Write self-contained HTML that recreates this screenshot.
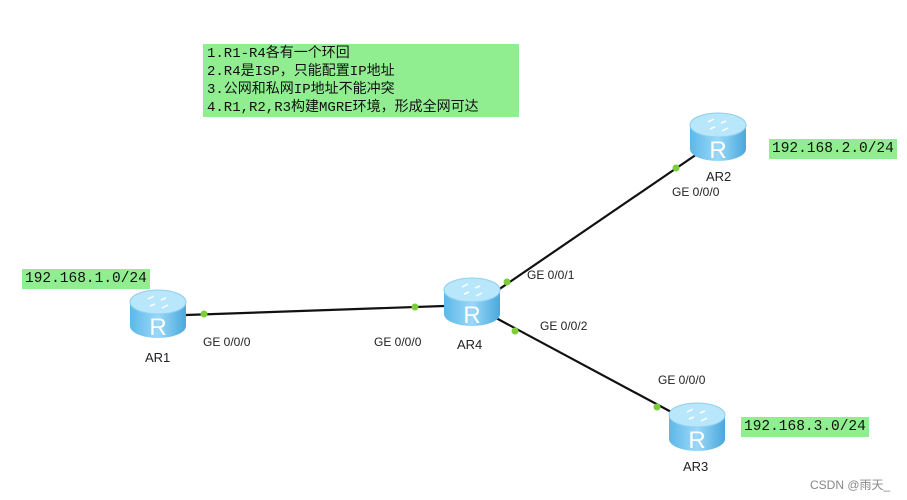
<!DOCTYPE html>
<html><head><meta charset="utf-8"><style>
body{margin:0;background:#fff;width:907px;height:500px;overflow:hidden;position:relative;font-family:"Liberation Sans",sans-serif}
.note{position:absolute;left:203px;top:44px;width:316px;height:73px;background:#90ee90;font-family:"Liberation Mono","Noto Sans CJK SC",monospace;font-size:14px;line-height:18px;color:#111;padding:1px 0 0 4px;box-sizing:border-box;white-space:pre}
.net{position:absolute;background:#90ee90;font-family:"Liberation Mono",monospace;font-size:14.5px;color:#111;height:20px;line-height:20px;padding:0 3px;}
</style></head><body>
<div class="note">1.R1-R4各有一个环回
2.R4是ISP，只能配置IP地址
3.公网和私网IP地址不能冲突
4.R1,R2,R3构建MGRE环境，形成全网可达</div>
<div class="net" style="left:22px;top:269px">192.168.1.0/24</div>
<div class="net" style="left:769px;top:139px">192.168.2.0/24</div>
<div class="net" style="left:741px;top:417px">192.168.3.0/24</div>
<svg width="907" height="500" style="position:absolute;left:0;top:0">
<defs>
<linearGradient id="b" x1="0" x2="1"><stop offset="0" stop-color="#5cb8e8"/><stop offset="0.5" stop-color="#9ad8f8"/><stop offset="1" stop-color="#4aa8dc"/></linearGradient>
<g id="r">
<path d="M0,12 L0,36 A28,12 0 0 0 56,36 L56,12 Z" fill="url(#b)"/>
<ellipse cx="28" cy="12" rx="28" ry="12" fill="#b8e6fb" stroke="#8fd0f0"/>
<text x="28" y="45" text-anchor="middle" font-size="24" fill="#fff" font-family="Liberation Sans">R</text>
<path d="M18,9 l6,-3 M38,15 l-6,3 M20,16 l5,-2 M36,8 l-5,2" stroke="#fff" stroke-width="1.5"/>
</g>
</defs>
<g stroke="#111" stroke-width="2.2">
<line x1="186" y1="315" x2="444" y2="306"/>
<line x1="498" y1="290" x2="700" y2="152"/>
<line x1="496" y1="318" x2="675" y2="414"/>
</g>
<use href="#r" x="130" y="290"/>
<use href="#r" x="444" y="278"/>
<use href="#r" x="690" y="113"/>
<use href="#r" x="669" y="403"/>
<g fill="#7ccd3c">
<circle cx="204" cy="314" r="3.5"/><circle cx="415" cy="307" r="3.5"/>
<circle cx="507" cy="282" r="3.5"/><circle cx="676" cy="168" r="3.5"/>
<circle cx="515" cy="331" r="3.5"/><circle cx="657" cy="407" r="3.5"/>
</g>
<g font-size="12" fill="#222" font-family="Liberation Sans">
<text x="203" y="346">GE 0/0/0</text>
<text x="374" y="346">GE 0/0/0</text>
<text x="527" y="279">GE 0/0/1</text>
<text x="540" y="330">GE 0/0/2</text>
<text x="672" y="196">GE 0/0/0</text>
<text x="658" y="384">GE 0/0/0</text>
</g>
<g font-size="13" fill="#222" font-family="Liberation Sans">
<text x="145" y="362">AR1</text>
<text x="457" y="349">AR4</text>
<text x="706" y="181">AR2</text>
<text x="683" y="471">AR3</text>
</g>
<text x="810" y="489" font-size="12" fill="#888" font-family="Liberation Sans,Noto Sans CJK SC,sans-serif">CSDN @雨天_</text>
</svg>
</body></html>
